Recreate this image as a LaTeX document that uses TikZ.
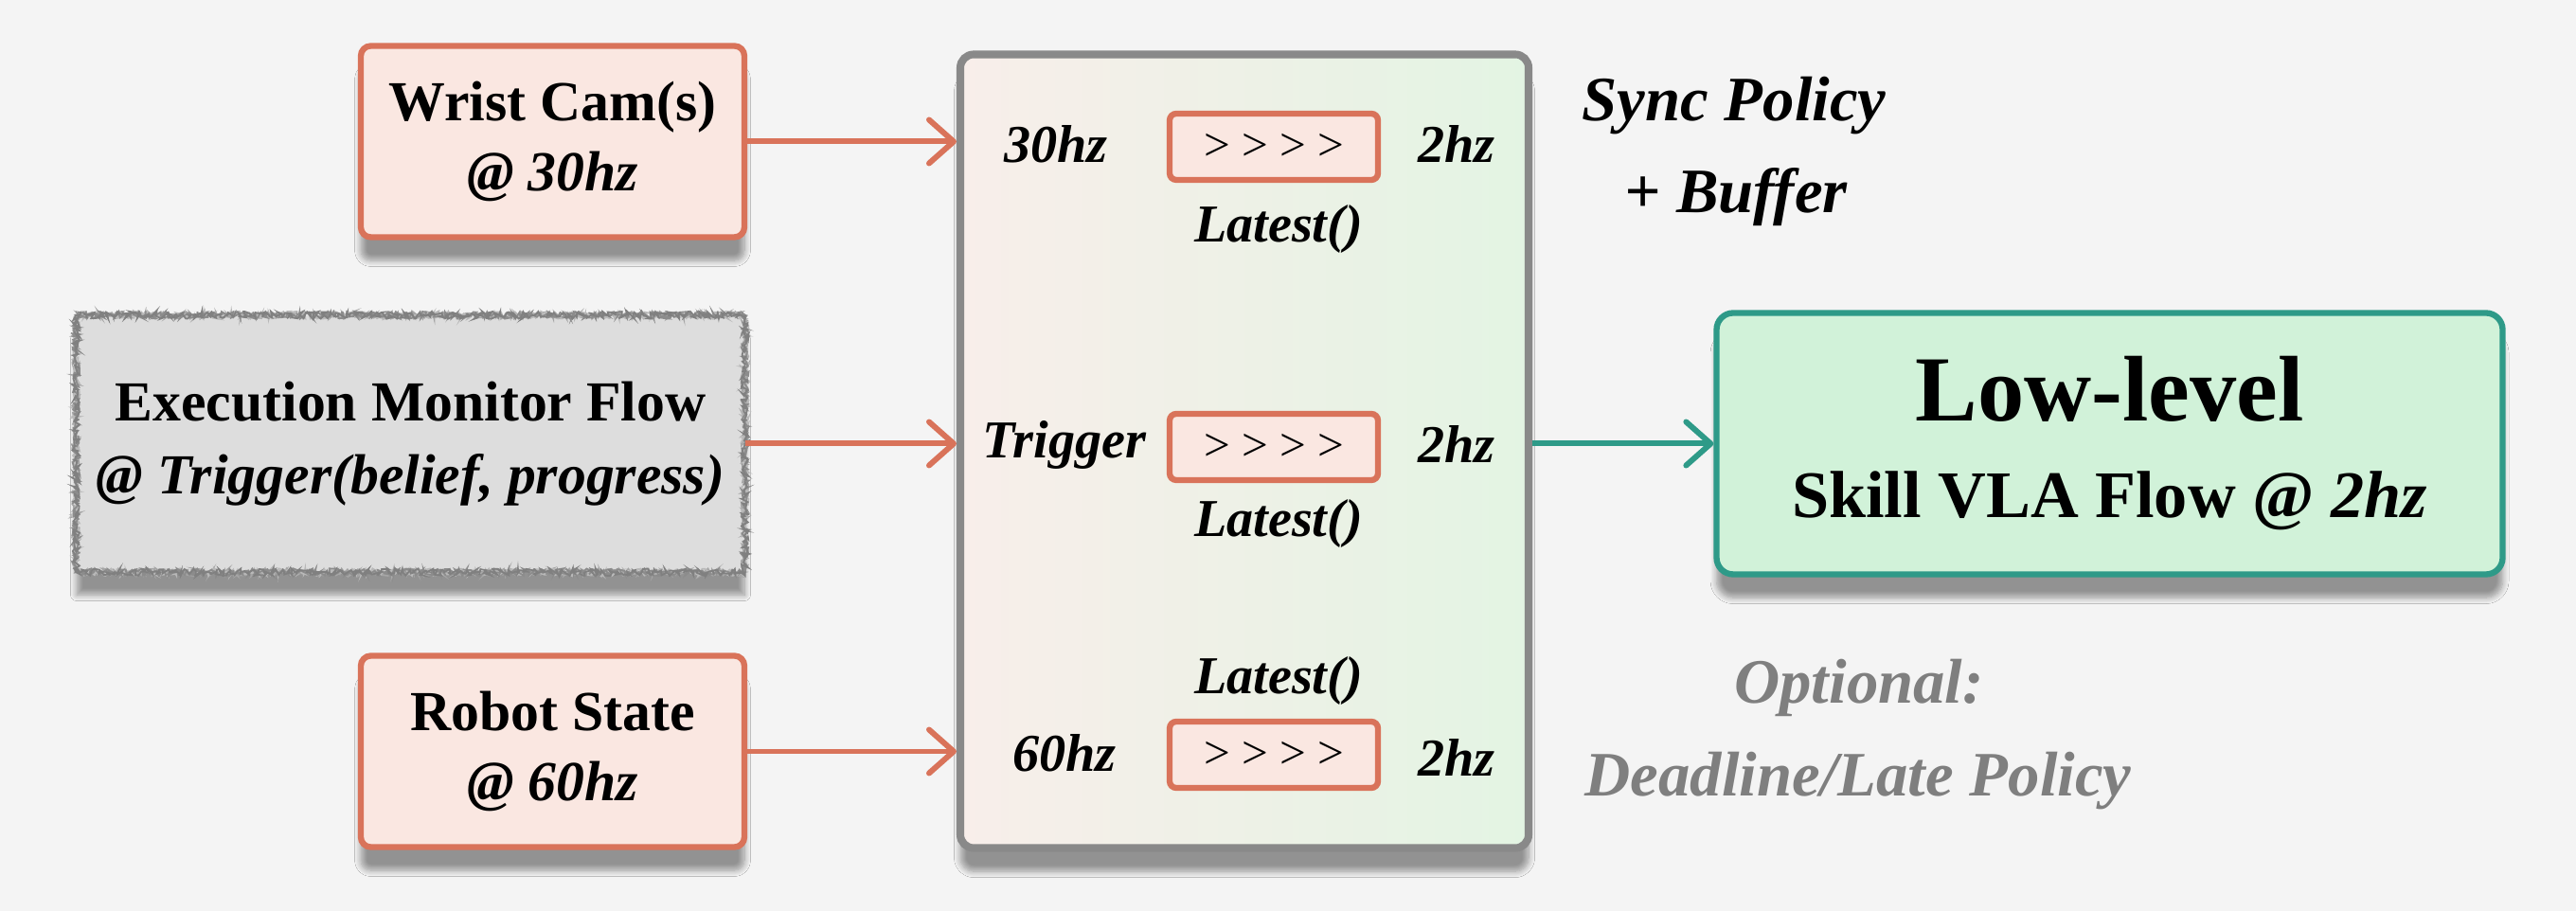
\documentclass[tikz,border=0pt]{standalone}
\usepackage{fontspec}
\setmainfont{Liberation Serif}
\usepackage{tikz}
\usetikzlibrary{arrows.meta,shadows.blur,decorations.pathmorphing}

\definecolor{bgcol}{HTML}{F4F4F4}
\definecolor{camorange}{HTML}{D9735A}
\definecolor{campink}{HTML}{FAE7E1}
\definecolor{mongray}{HTML}{DDDDDD}
\definecolor{syncgray}{HTML}{898989}
\definecolor{syncleft}{HTML}{F8EEEA}
\definecolor{syncright}{HTML}{E3F4E3}
\definecolor{skillteal}{HTML}{2E9A88}
\definecolor{skillgreen}{HTML}{D1F2D9}
\definecolor{optgray}{HTML}{7F7F7F}

\begin{document}
\begin{tikzpicture}[
    softshadow/.style={blur shadow={shadow xshift=0pt, shadow yshift=-7pt, shadow blur steps=8, shadow opacity=40}},
    srcbox/.style={draw=camorange, fill=campink, line width=1.8pt, rounded corners=3pt, align=center,
      minimum width=4.05cm, minimum height=2.02cm, font=\fontsize{17}{21}\selectfont\bfseries, softshadow},
    monbox/.style={fill=mongray, align=center, minimum width=7.05cm, minimum height=2.7cm,
      font=\fontsize{17}{22}\selectfont\bfseries, softshadow},
    rough/.style={draw=#1, line width=0.5pt, decorate, decoration={random steps, segment length=0.5pt, amplitude=1.1pt}},
    syncbox/.style={draw=syncgray, line width=2.3pt, rounded corners=4pt, left color=syncleft, right color=syncright,
      minimum width=6.0cm, minimum height=8.38cm, softshadow},
    bufbox/.style={draw=camorange, fill=campink, line width=1.8pt, rounded corners=2pt,
      minimum width=2.2cm, minimum height=0.7cm, font=\fontsize{14}{16}\selectfont},
    rate/.style={font=\fontsize{16}{19}\selectfont\bfseries\itshape},
    note/.style={font=\fontsize{19}{23}\selectfont\bfseries\itshape},
    skillbox/.style={draw=skillteal, fill=skillgreen, line width=1.8pt, rounded corners=5pt, align=center,
      minimum width=8.3cm, minimum height=2.76cm, font=\fontsize{20}{26}\selectfont\bfseries, softshadow},
    feed/.style={draw=camorange, line width=1.7pt, -{Straight Barb[length=2.6mm,width=4.6mm,round]}},
    skillfeed/.style={draw=skillteal, line width=1.7pt, -{Straight Barb[length=2.6mm,width=4.6mm,round]}},
  ]
  \fill[bgcol] (0,0) rectangle (27.2,9.62);
  \useasboundingbox (0,0) rectangle (27.2,9.62);

  % inputs
  \node[srcbox] (wrist) at (5.835,8.125) {Wrist Cam(s)\\ \textit{@ 30hz}};
  \node[monbox] (monitor) at (4.335,4.935) {Execution Monitor Flow\\ \textit{@ Trigger(belief, progress)}};
  \pgfmathsetseed{7}
  \draw[rough=gray!70] (monitor.south west) rectangle (monitor.north east);
  \draw[rough=gray!55] (monitor.south west) rectangle (monitor.north east);
  \draw[rough=gray!90] (monitor.south west) rectangle (monitor.north east);
  \draw[rough=gray] (monitor.south west) rectangle (monitor.north east);
  \node[srcbox] (robot) at (5.835,1.685) {Robot State\\ \textit{@ 60hz}};

  % sync policy + buffer
  \node[syncbox] (sync) at (13.14,4.855) {};
  \node[bufbox] (bufa) at (13.45,8.07) {> > > >};
  \node[bufbox] (bufb) at (13.45,4.90) {> > > >};
  \node[bufbox] (bufc) at (13.45,1.65) {> > > >};

  \node[rate] (ina) at (11.15,8.10) {30hz};
  \node[rate] (inb) at (11.24,4.92) {Trigger};
  \node[rate] (inc) at (11.24,1.67) {60hz};
  \node[rate] (outa) at (15.38,8.10) {2hz};
  \node[rate] (outb) at (15.38,4.93) {2hz};
  \node[rate] (outc) at (15.38,1.62) {2hz};
  \node[rate] (lata) at (13.50,7.20) {Latest()};
  \node[rate] (latb) at (13.50,4.09) {Latest()};
  \node[rate] (latc) at (13.50,2.43) {Latest()};

  \node[note] (synca) at (18.31,8.50) {Sync Policy};
  \node[note] (syncb) at (18.33,7.54) {+ Buffer};

  % skill flow
  \node[skillbox] (low) at (22.275,4.935) {{\fontsize{28}{30}\selectfont Low-level}\\[3pt] Skill VLA Flow @ \textit{2hz}};

  \node[note, text=optgray] (opta) at (19.63,2.36) {Optional:};
  \node[note, text=optgray] (optb) at (19.62,1.37) {Deadline/Late Policy};

  \draw[feed] (wrist.east) -- (wrist.east -| sync.west);
  \draw[feed] (monitor.east) -- (monitor.east -| sync.west);
  \draw[feed] (robot.east) -- (robot.east -| sync.west);
  \draw[skillfeed] (low.west -| sync.east) -- (low.west);
\end{tikzpicture}
\end{document}
